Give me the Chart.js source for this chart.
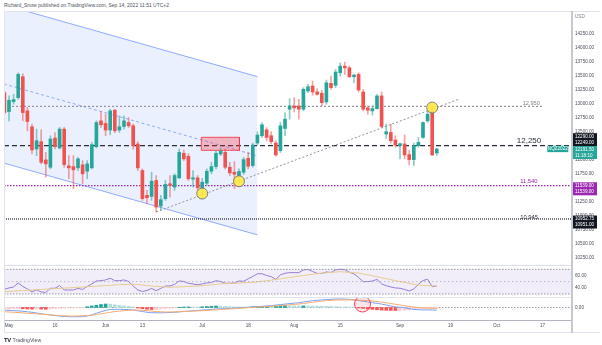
<!DOCTYPE html>
<html>
<head>
<meta charset="utf-8">
<title>NQ daily – channel, RSI, MACD</title>
<script src="https://cdn.jsdelivr.net/npm/chart.js@4.4.1/dist/chart.umd.min.js"></script>
<style>
  html, body { margin:0; padding:0; background:#ffffff; }
  body { position:relative; width:602px; height:345px; overflow:hidden; font-family:"Liberation Sans", Arial, sans-serif; }
  canvas { position:absolute; left:0; }
  .rule { position:absolute; background:#e0e3eb; }
  #byline { position:absolute; left:4px; top:2px; font-size:5px; line-height:6px; color:#50535e; white-space:nowrap; }
  #brand { position:absolute; left:4px; top:337px; font-size:5.2px; line-height:6px; color:#50535e; white-space:nowrap; }
  #brand b { color:#131722; font-size:5.8px; letter-spacing:-0.4px; margin-right:2px; }
</style>
</head>
<body>
<div id="byline">Richard_Snow published on TradingView.com, Sep 14, 2022 11:51 UTC+2</div>

<canvas id="price" width="602" height="254" style="top:11px"></canvas>
<canvas id="rsi" width="602" height="33" style="top:265px"></canvas>
<canvas id="macd" width="602" height="34" style="top:298px"></canvas>

<div class="rule" style="left:4px;top:11px;width:596px;height:1px"></div>
<div class="rule" style="left:4px;top:11px;width:1px;height:322px"></div>
<div class="rule" style="left:4px;top:265px;width:568px;height:1px"></div>
<div class="rule" style="left:4px;top:297px;width:568px;height:1px"></div>
<div class="rule" style="left:4px;top:332px;width:596px;height:1px"></div>
<div class="rule" style="left:571px;top:11px;width:1.5px;height:322px;background:#c5c8cf"></div>

<div id="brand"><b>TV</b>TradingView</div>

<script>
// ---- Daily NQ candles (trading days) ----
const dates = [
  'Apr 29','May 2','May 3','May 4','May 5','May 6','May 9','May 10','May 11','May 12',
  'May 13','May 16','May 17','May 18','May 19','May 20','May 23','May 24','May 25','May 26',
  'May 27','May 31','Jun 1','Jun 2','Jun 3','Jun 6','Jun 7','Jun 8','Jun 9','Jun 10',
  'Jun 13','Jun 14','Jun 15','Jun 16','Jun 17','Jun 21','Jun 22','Jun 23','Jun 24','Jun 27',
  'Jun 28','Jun 29','Jun 30','Jul 1','Jul 5','Jul 6','Jul 7','Jul 8','Jul 11','Jul 12',
  'Jul 13','Jul 14','Jul 15','Jul 18','Jul 19','Jul 20','Jul 21','Jul 22','Jul 25','Jul 26',
  'Jul 27','Jul 28','Jul 29','Aug 1','Aug 2','Aug 3','Aug 4','Aug 5','Aug 8','Aug 9',
  'Aug 10','Aug 11','Aug 12','Aug 15','Aug 16','Aug 17','Aug 18','Aug 19','Aug 22','Aug 23',
  'Aug 24','Aug 25','Aug 26','Aug 29','Aug 30','Aug 31','Sep 1','Sep 2','Sep 6','Sep 7',
  'Sep 8','Sep 9','Sep 12','Sep 13','Sep 14'
];
const open = [
  13193,12857,13034,13105,13477,12869,12586,12191,12321,11997,
  11866,12386,12209,12545,11891,11878,11855,11908,11795,11855,
  12232,12692,12645,12528,12882,12528,12592,12662,12604,12280,
  11807,11365,11347,11630,11176,11306,11572,11512,11678,12114,
  12061,11654,11678,11483,11583,11795,11878,12102,12131,11866,
  11777,11707,11777,12025,11896,12297,12427,12533,12427,12297,
  12161,12556,12899,12958,12958,12899,13223,13312,13206,13183,
  13029,13359,13324,13548,13666,13636,13477,13519,13206,12923,
  12869,12910,13135,12457,12486,12350,12250,12280,12091,12002,
  12250,12397,12692,12869,12120
];
const high = [
  13220,13135,13165,13547,13530,12928,12634,12545,12533,12131,
  12427,12485,12574,12574,12073,12073,12043,11984,11984,12308,
  12692,12857,12811,12899,12900,12781,12781,12751,12634,12321,
  11837,11453,11777,11719,11365,11630,11719,11749,12191,12174,
  12108,11807,11719,11666,11837,11955,12161,12209,12197,11955,
  11967,11837,12043,12131,12297,12498,12662,12574,12498,12338,
  12663,12839,13087,13104,13075,13282,13342,13400,13264,13235,
  13418,13489,13607,13724,13737,13666,13519,13548,13253,12958,
  12958,13165,13206,12634,12634,12427,12297,12439,12161,12297,
  12397,12675,12869,12958,12202
];
const low = [
  12800,12692,12988,13076,12692,12515,12103,12073,11926,11689,
  11837,12191,12191,11866,11661,11483,11807,11572,11661,11837,
  12209,12574,12427,12445,12480,12485,12545,12574,12191,11807,
  11276,11218,11276,11069,11099,11276,11335,11453,11661,11984,
  11630,11512,11453,11365,11542,11749,11837,12073,11837,11719,
  11483,11577,11737,11837,11866,12262,12397,12338,12280,12061,
  12130,12427,12722,12850,12722,12869,13193,13147,13147,12958,
  12988,13253,13282,13489,13519,13459,13370,13206,12869,12811,
  12793,12900,12574,12379,12297,12220,12014,12014,11908,11896,
  12220,12379,12662,12073,12073
];
const close = [
  12839,13059,13070,13519,12839,12680,12174,12338,11954,11926,
  12368,12232,12545,11914,11855,11820,12015,11749,11926,12268,
  12662,12622,12528,12869,12515,12586,12692,12604,12250,11855,
  11307,11324,11618,11158,11289,11560,11542,11719,12131,12014,
  11661,11678,11501,11600,11795,11878,12114,12149,11866,11766,
  11742,11790,12002,11884,12262,12439,12622,12397,12321,12085,
  12604,12722,12958,12923,12899,13254,13299,13206,13165,13016,
  13370,13282,13560,13666,13636,13477,13507,13241,12899,12882,
  12910,13135,12592,12498,12338,12262,12285,12085,12002,12250,
  12308,12662,12811,12085,12191.5
];

// ---- RSI (14) and its moving average ----
const rsi = [
  37.7,39.8,41.4,47.9,42.2,38.2,33.3,36.5,33.3,32.5,
  39.3,39.3,43.8,36.5,36.5,36.5,39.0,37.4,42.2,46.3,
  51.1,51.6,52.8,55.5,51.6,51.6,52.8,50.3,43.0,36.5,
  34.1,35.7,39.0,35.4,39.0,43.0,43.0,45.5,51.1,50.3,
  47.1,46.3,45.0,46.3,47.9,48.7,51.5,50.3,47.4,47.4,
  47.9,51.1,50.6,54.7,58.4,62.8,62.8,60.0,58.1,53.6,
  60.9,63.6,64.6,64.6,64.6,69.0,69.8,66.5,63.3,63.3,
  65.7,64.9,69.0,70.1,69.3,65.2,62.5,56.8,50.0,50.0,
  51.1,53.6,46.3,43.5,41.4,39.8,39.3,37.4,34.9,38.2,
  45.5,51.9,53.9,41.9,43.0
];
const rsiMa = [
  33.8,34.2,34.7,35.2,35.6,36.1,36.5,36.9,37.4,37.8,
  38.2,38.7,39.1,39.5,40.0,40.4,40.9,41.3,41.8,42.2,
  42.7,43.2,43.7,44.1,44.6,45.1,45.4,45.6,45.8,45.2,
  44.5,43.7,42.9,42.4,41.8,41.3,40.9,41.2,41.5,41.9,
  42.2,42.6,43.0,43.4,44.1,44.8,45.6,46.3,46.7,47.0,
  47.4,47.8,48.1,48.5,48.9,49.8,50.7,51.5,52.4,53.5,
  54.6,55.7,56.8,57.9,59.0,60.0,61.0,61.9,62.9,63.8,
  64.4,65.0,65.6,66.2,65.6,65.0,64.4,63.8,62.4,61.0,
  59.6,58.0,56.4,54.8,53.2,51.7,50.2,48.7,47.2,45.8,
  44.3,43.9,43.5,43.2,43.0
];

// ---- MACD (12, 26, 9) ----
const macd = [
  -50,-57,-64,-68,-76,-85,-95,-110,-125,-138,
  -150,-160,-170,-178,-184,-186,-185,-182,-170,-150,
  -115,-85,-58,-40,-36,-36,-38,-42,-50,-65,
  -80,-95,-104,-106,-106,-104,-100,-95,-88,-80,
  -72,-65,-58,-50,-45,-38,-30,-26,-22,-18,
  -15,-8,-2,5,12,18,24,30,38,48,
  58,68,78,88,95,110,125,136,146,152,
  158,164,168,170,168,164,155,140,125,110,
  95,84,68,50,30,12,5,-5,-25,-38,
  -45,-48,-48,-50,-52
];
const signal = [
  -84,-90,-96,-102,-108,-114,-120,-127,-134,-141,
  -148,-155,-161,-166,-170,-171,-170,-166,-160,-152,
  -142,-128,-112,-96,-82,-72,-64,-58,-54,-52,
  -56,-64,-72,-80,-86,-90,-90,-88,-84,-80,
  -76,-72,-68,-63,-58,-52,-46,-40,-34,-28,
  -22,-16,-10,-4,2,8,14,20,26,32,
  38,46,54,62,70,80,92,104,116,126,
  136,142,148,150,152,152,150,148,144,138,
  130,120,108,96,80,64,50,36,22,10,
  0,-6,-12,-16,-18
];
const hist = [
  -30,-28,-25,-22,-25,-30,-32,-30,-32,-35,
  -30,-20,-15,-12,-10,-8,-5,-3,15,30,
  45,60,70,66,55,45,35,25,12,-12,
  -25,-35,-40,-38,-30,-22,-14,-6,5,10,
  12,10,8,15,20,25,30,26,22,18,
  15,12,10,9,14,18,22,26,24,28,
  33,38,36,33,30,32,30,28,26,24,
  22,20,16,12,10,8,5,-8,-18,-28,
  -38,-45,-52,-56,-58,-60,-56,-52,-48,-42,
  -35,-28,-22,-18,-15
];

// ---- Axis ticks (bar slot index -> label) ----
const tickIndex  = [1, 11, 22, 30, 43, 53, 63, 73, 86, 97, 107, 117];
const tickLabels = ['May','16','Jun','13','Jul','18','Aug','15','Sep','19','Oct','17'];
const priceTicks = [10250,10500,10750,11000,11250,11500,11750,12000,12250,12500,12750,13000,13250,13500,13750,14000,14250];
const rsiTicks = [40, 60];
const macdTicks = [0];

// ---- Drawings ----
const channelX     = [-0.1, 55];
const channelUpper = [14757, 13479];
const channelMid   = [13348, 12070];
const channelLower = [11940, 10662];
const trendX = [33, 98.7];
const trendY = [11070, 13075];
const levels    = [12950, 12250, 11540, 10945];
const levelText = ['12,950', '12,250', '11,540', '10,945'];
const zoneX = [42.8, 51.1];
const zoneY = [12167, 12399];
const touchX = [43, 51, 93];
const touchY = [11398, 11617, 12929];
const crossX = [77.85];
const crossY = [70];

// ---- Price-scale tags ----
const tagRows = [['12290.00','12249.00'], ['12191.50','11:18:10'], ['11539.00','11539.00'], ['10952.75','10951.00']];
const tagAt = [12357, 12128, 11482, 10891];
const symbol = 'NQZ2022';
const lastPrice = close[close.length - 1];

// ---- Styling ----
const FONT = '"Liberation Sans", Arial, sans-serif';
const GREEN = '#26a69a', RED = '#ef5350';
const WICK_UP = 'rgba(38,166,154,0.55)', WICK_DN = 'rgba(239,83,80,0.55)';
const CH_LINE = 'rgba(41,98,255,0.5)', CH_FILL = 'rgba(33,87,243,0.09)';
const X_MIN = -0.087, X_MAX = 123.39;
const AXIS_W = 30;
const TICK_FONT = { size: 4.6, family: FONT };
const TICK_COLOR = '#4a4e59';
const levelStyle = [
  { color:'#80838d', width:1,   dash:[2,2],     end:117.1, size:5.6, weight:'normal', at:116.4, lift:1.6 },
  { color:'#2a2e39', width:1.3, dash:[5,3],     end:X_MAX, size:8,   weight:'normal', at:116.7, lift:2.5 },
  { color:'#9c27b0', width:1.3, dash:[1.5,1.5], end:X_MAX, size:5.8, weight:'normal', at:115.9, lift:2.6 },
  { color:'#2a2e39', width:1.3, dash:[1,1],     end:X_MAX, size:5.8, weight:'normal', at:116.0, lift:0.3 }
];
const tagColors = ['#131722', GREEN, '#9c27b0', '#131722'];

Chart.defaults.animation = false;
Chart.defaults.events = [];
Chart.defaults.font.family = FONT;
Chart.defaults.plugins.legend.display = false;
Chart.defaults.plugins.tooltip.enabled = false;

const pts = (xs, ys) => xs.map((x, i) => ({ x, y: ys[i] }));
const series = ys => ys.map((y, i) => ({ x: i, y }));
const hline = (y, x0, x1) => [{ x: x0, y }, { x: x1, y }];
const up = dates.map((d, i) => close[i] >= open[i]);

function timeAxis(show) {
  return {
    type: 'linear', min: X_MIN, max: X_MAX, display: show, offset: false,
    grid: { display: false, drawTicks: false, offset: false },
    border: { display: show, color: '#b2b5be', width: 1 },
    afterBuildTicks: s => { s.ticks = tickIndex.map(v => ({ value: v })); },
    afterFit: s => { s.height = show ? 12 : 0; s.paddingLeft = 0; s.paddingRight = 0; },
    ticks: {
      autoSkip: false, maxRotation: 0, font: TICK_FONT, color: TICK_COLOR, padding: 3,
      callback: v => tickLabels[tickIndex.indexOf(v)]
    }
  };
}
function rightAxis(min, max, values) {
  return {
    type: 'linear', position: 'right', min, max,
    grid: { display: false, drawTicks: false },
    border: { display: false },
    afterBuildTicks: s => { s.ticks = values.map(v => ({ value: v })); },
    afterFit: s => { s.width = AXIS_W; s.paddingTop = 0; s.paddingBottom = 0; },
    ticks: { autoSkip: false, font: TICK_FONT, color: TICK_COLOR, padding: 3, callback: v => v.toFixed(2) }
  };
}
const baseOptions = (scales) => ({
  responsive: false, devicePixelRatio: 1,
  layout: { autoPadding: false, padding: { left: 4, right: 0, top: 0, bottom: 0 } },
  scales
});

// Captions on the horizontal levels and the coloured price-scale tags
const priceOverlay = {
  id: 'priceOverlay',
  afterDatasetsDraw(chart) {
    const { ctx, scales: { x, y } } = chart;
    ctx.save();
    ctx.textAlign = 'right';
    ctx.textBaseline = 'alphabetic';
    levels.forEach((v, i) => {
      const st = levelStyle[i];
      ctx.font = `${st.weight} ${st.size}px ${FONT}`;
      ctx.fillStyle = st.color;
      ctx.fillText(levelText[i], x.getPixelForValue(st.at), y.getPixelForValue(v) - st.lift);
    });
    ctx.restore();
  },
  afterDraw(chart) {
    const { ctx, chartArea, scales: { y } } = chart;
    const r = chartArea.right;
    ctx.save();
    ctx.font = `4.6px ${FONT}`;
    ctx.textBaseline = 'middle';
    tagRows.forEach((rows, i) => {
      const cy = y.getPixelForValue(tagAt[i]);
      ctx.fillStyle = tagColors[i];
      ctx.fillRect(r, cy - 6.5, 25, 13);
      ctx.fillStyle = '#ffffff';
      ctx.textAlign = 'left';
      ctx.fillText(rows[0], r + 3, cy - 3);
      ctx.fillText(rows[1], r + 3, cy + 3.2);
    });
    const sy = y.getPixelForValue(lastPrice);
    ctx.fillStyle = GREEN;
    ctx.fillRect(r - 24.7, sy - 3.2, 21, 6.4);
    ctx.fillStyle = '#ffffff';
    ctx.textAlign = 'center';
    ctx.fillText(symbol, r - 14.2, sy + 0.2);
    ctx.fillStyle = '#787b86';
    ctx.textAlign = 'left';
    ctx.fillText('USD', r + 3, 5.5);
    ctx.restore();
  }
};

// ---- Price pane ----
new Chart(document.getElementById('price'), {
  type: 'bar',
  data: {
    datasets: [
      { type: 'line', data: pts(channelX, channelUpper), borderColor: CH_LINE, borderWidth: 1, pointRadius: 0,
        fill: '+1', backgroundColor: CH_FILL, order: 20 },
      { type: 'line', data: pts(channelX, channelLower), borderColor: CH_LINE, borderWidth: 1, pointRadius: 0,
        fill: false, order: 19 },
      { type: 'line', data: pts(channelX, channelMid), borderColor: CH_LINE, borderWidth: 1, borderDash: [3, 2.5],
        pointRadius: 0, fill: false, order: 18 },
      ...levels.map((v, i) => ({
        type: 'line', data: hline(v, X_MIN, levelStyle[i].end), borderColor: levelStyle[i].color,
        borderWidth: levelStyle[i].width, borderDash: levelStyle[i].dash, pointRadius: 0, fill: false, order: 10
      })),
      { type: 'line', data: pts(trendX, trendY), borderColor: '#8f929b', borderWidth: 1, borderDash: [2, 2],
        pointRadius: 0, fill: false, order: 9 },
      { type: 'line',
        data: [{ x: zoneX[0], y: zoneY[1] }, { x: zoneX[1], y: zoneY[1] }, { x: zoneX[1], y: zoneY[0] },
               { x: zoneX[0], y: zoneY[0] }, { x: zoneX[0], y: zoneY[1] }],
        fill: 'shape', backgroundColor: 'rgba(242,54,69,0.32)', borderColor: 'rgba(242,54,69,0.85)',
        borderWidth: 1, pointRadius: 0, tension: 0, order: 8 },
      { type: 'bar', data: dates.map((d, i) => ({ x: i, y: [low[i], high[i]] })),
        backgroundColor: c => up[c.dataIndex] ? WICK_UP : WICK_DN,
        barThickness: 1, grouped: false, borderWidth: 0, borderSkipped: false, order: 3 },
      { type: 'bar', data: dates.map((d, i) => ({ x: i, y: [open[i], close[i]] })),
        backgroundColor: c => up[c.dataIndex] ? GREEN : RED,
        barThickness: 3, grouped: false, borderWidth: 0, borderSkipped: false, minBarLength: 1, order: 2 },
      { type: 'line', data: pts(touchX, touchY), showLine: false, pointRadius: 5.5,
        pointBackgroundColor: 'rgba(255,233,64,0.9)', pointBorderColor: '#7d7d7d', pointBorderWidth: 1, order: 1 }
    ]
  },
  options: baseOptions({ x: timeAxis(false), y: rightAxis(10126, 14647, priceTicks) }),
  plugins: [priceOverlay]
});

// ---- RSI pane ----
new Chart(document.getElementById('rsi'), {
  type: 'line',
  data: {
    datasets: [
      { data: hline(70, X_MIN, X_MAX), borderColor: '#9598a1', borderWidth: 1, borderDash: [1.5, 1.5],
        pointRadius: 0, fill: '+1', backgroundColor: 'rgba(126,87,194,0.1)' },
      { data: hline(30, X_MIN, X_MAX), borderColor: '#9598a1', borderWidth: 1, borderDash: [1.5, 1.5],
        pointRadius: 0, fill: false },
      { data: hline(50, X_MIN, X_MAX), borderColor: 'rgba(149,152,161,0.6)', borderWidth: 1, borderDash: [1.5, 2.5],
        pointRadius: 0, fill: false },
      { data: series(rsiMa), borderColor: '#f2d88a', borderWidth: 1, pointRadius: 0, fill: false },
      { data: series(rsi), borderColor: '#9a7fd6', borderWidth: 1, pointRadius: 0, fill: false }
    ]
  },
  options: baseOptions({ x: timeAxis(false), y: rightAxis(23.5, 77, rsiTicks) })
});

// ---- MACD pane ----
new Chart(document.getElementById('macd'), {
  type: 'bar',
  data: {
    datasets: [
      { type: 'line', data: hline(0, X_MIN, X_MAX), borderColor: '#9598a1', borderWidth: 1, borderDash: [1.5, 1.5],
        pointRadius: 0, fill: false, order: 10 },
      { type: 'bar', data: series(hist), barThickness: 3, grouped: false, borderWidth: 0, order: 5,
        backgroundColor: c => {
          const i = c.dataIndex, v = hist[i], prev = i > 0 ? hist[i - 1] : v;
          if (v >= 0) return v >= prev ? '#26a69a' : '#b2dfdb';
          return v < prev ? '#ff5252' : '#ffcdd2';
        } },
      { type: 'line', data: series(macd), borderColor: '#7b9ff5', borderWidth: 1, pointRadius: 0, fill: false, order: 3 },
      { type: 'line', data: series(signal), borderColor: '#f9ac70', borderWidth: 1, pointRadius: 0, fill: false, order: 2 },
      { type: 'line', data: pts(crossX, crossY), showLine: false, pointRadius: 8, clip: 0,
        pointBackgroundColor: 'rgba(242,54,69,0.12)', pointBorderColor: 'rgba(242,54,69,0.9)', pointBorderWidth: 1, order: 1 }
    ]
  },
  options: baseOptions({ x: timeAxis(true), y: rightAxis(-250, 190, macdTicks) })
});
</script>
</body>
</html>
